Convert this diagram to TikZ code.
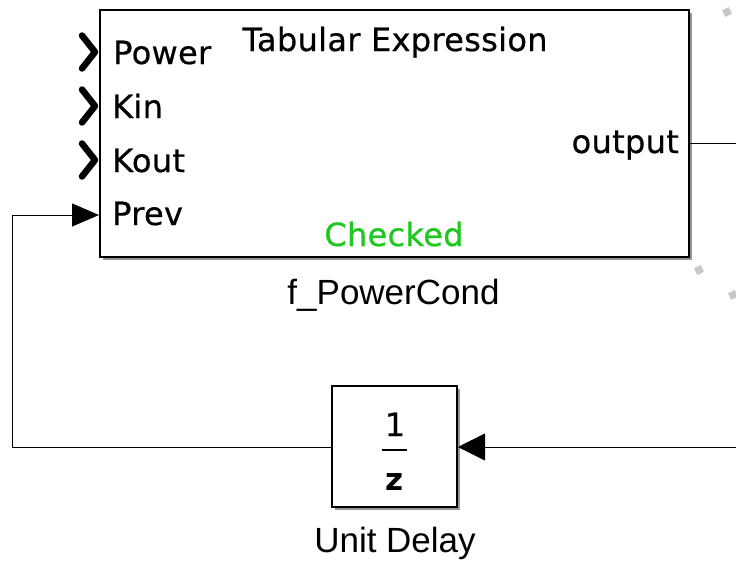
\documentclass[tikz,border=0pt]{standalone}
\usepackage{fontspec}
\setmainfont{DejaVu Sans}
\newfontfamily\blkfont[LetterSpace=1,FakeBold=0.6]{DejaVu Sans}
\newfontfamily\labfont{Liberation Sans}
\usetikzlibrary{arrows.meta,calc}
\definecolor{chk}{RGB}{30,200,30}
\definecolor{shadowgray}{RGB}{150,150,150}
\definecolor{handlegray}{RGB}{200,200,200}
\tikzset{
  blk/.style={draw=black, line width=2pt, fill=white, inner sep=0pt},
  blkshadow/.style={fill=shadowgray, draw=none},
  porttxt/.style={anchor=base west, inner sep=0pt, font=\blkfont\fontsize{32}{38}\selectfont},
  intxt/.style={inner sep=0pt, font=\blkfont\fontsize{32}{38}\selectfont},
  labtxt/.style={anchor=base, inner sep=0pt, font=\labfont\fontsize{35}{42}\selectfont},
  chev/.style={line width=6.5pt, line cap=round, line join=round},
  wireln/.style={draw=black, line width=0.8pt},
  handle/.style={fill=handlegray, draw=none, minimum size=7.5pt, inner sep=0pt, rotate=25},
}
\begin{document}
\begin{tikzpicture}[x=1pt,y=-1pt]
\useasboundingbox (0,0) rectangle (736,560);
\fill[white] (0,0) rectangle (736,560);

% shadows
\fill[blkshadow] (103,13) rectangle (691.5,260);
\fill[blkshadow] (335,389) rectangle (459.5,509.5);

% main block
\node[blk, minimum width=589pt, minimum height=247pt] (tab) at (394.5,133.5) {};
% unit delay block
\node[blk, minimum width=125pt, minimum height=121pt] (ud) at (394.5,446.5) {};

% port coordinates
\coordinate (pPower) at (tab.west |- 0,52);
\coordinate (pKin) at (tab.west |- 0,106);
\coordinate (pKout) at (tab.west |- 0,160);
\coordinate (pPrev) at (tab.west |- 0,215);
\coordinate (pOut) at (tab.east |- 0,143);
\coordinate (outEnd) at (736,143);
\coordinate (udIn) at (ud.east |- 0,447);
\coordinate (udOut) at (ud.west |- 0,447);
\coordinate (inEnd) at (736,447);
\coordinate (loopCorner) at (12,447);

% chevron inputs
\foreach \p in {pPower,pKin,pKout}{
  \draw[chev] ($(\p)+(-17,-16.5)$) -- ($(\p)+(-4,0)$) -- ($(\p)+(-17,16.5)$);
}

% text in main block
\node[porttxt] (tPower) at (113,64) {Power};
\node[porttxt] (tKin) at (112,118) {Kin};
\node[porttxt] (tKout) at (112,172) {Kout};
\node[porttxt] (tPrev) at (112,225) {Prev};
\node[intxt, anchor=base] (tTitle) at (395,51) {Tabular Expression};
\node[intxt, anchor=base east] (tOut) at (679,153) {output};
\node[intxt, anchor=base, text=chk] (tChk) at (394,246) {Checked};

% labels under blocks
\node[labtxt] (lTab) at (393.5,304) {f\_PowerCond};
\node[labtxt] (lUd) at (395,552) {Unit Delay};

% unit delay content
\node[intxt, anchor=base] (one) at (395,436) {1};
\draw[line width=2.6pt] (382,450) -- (407,450);
\node[intxt, anchor=base, font=\fontsize{31}{36}\selectfont\bfseries] (zz) at (395,490) {z};

% connectors
\draw[wireln] (pOut) -- (outEnd);
\draw[wireln, -{Triangle[length=27pt,width=27pt]}] (inEnd) -- (udIn);
\draw[wireln, -{Triangle[length=27pt,width=23pt]}] (udOut) -- (loopCorner) |- (pPrev);

% selection handles
\node[handle] (h1) at (727,12) {};
\node[handle] (h2) at (699,270) {};
\node[handle] (h3) at (733,295) {};
\end{tikzpicture}
\end{document}
